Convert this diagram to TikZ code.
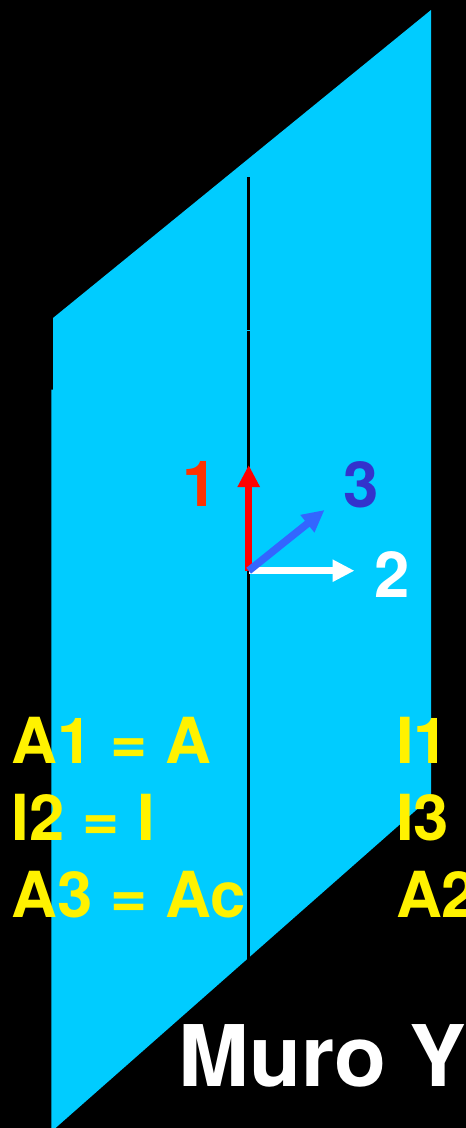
\documentclass[tikz,border=0pt]{standalone}
\usepackage{fontspec}
\setmainfont{TeX Gyre Heros}
\usetikzlibrary{arrows.meta}
\definecolor{wall}{HTML}{00CCFF}
\definecolor{onecol}{HTML}{FF3300}
\definecolor{threecol}{HTML}{3333CC}
\definecolor{arrowblue}{HTML}{3366FF}
\tikzset{
  lbl/.style={anchor=base west,inner sep=0pt,outer sep=0pt,font=\fontsize{63.5}{63.5}\selectfont\bfseries},
  prop/.style={lbl,text=yellow},
  axis/.style={line width=7.5pt,-{Triangle[length=22pt,width=21pt]}},
  title/.style={anchor=base west,inner sep=0pt,outer sep=0pt,text=white,font=\fontsize{85}{85}\selectfont\bfseries},
}
\begin{document}
\begin{tikzpicture}[x=1pt,y=-1pt]
\useasboundingbox (0,0) rectangle (466,1128);
\clip (0,0) rectangle (466,1128);
\fill[black] (0,0) rectangle (466,1128);
% wall
\fill[wall] (53,318) -- (431,10) -- (431,797) -- (55.5,1128) -- (51.3,1128) -- (51.3,389.5) -- (53,389.5) -- cycle;
% centre line
\coordinate (lt) at (248.7,177);
\coordinate (lm1) at (248.7,329.8);
\coordinate (lm2) at (248.7,330.8);
\coordinate (lb) at (248.7,958.5);
\draw[black,line width=2.7pt] (lt) -- (lm1);
\draw[black,line width=2.7pt] (lm2) -- (lb);
% axes
\coordinate (o) at (248.7,570.7);
\coordinate (t1) at (248.7,465);
\coordinate (t2) at (354.5,570.7);
\coordinate (t3) at (324.5,510);
\draw[axis,red] (o) -- (t1);
\draw[axis,white] (o) -- (t2);
\draw[axis,arrowblue] (o) -- (t3);
\node[lbl,text=onecol] (n1) at (182,506) {1};
\node[lbl,text=white] (n2) at (374,597) {2};
\node[lbl,text=threecol] (n3) at (343,507) {3};
% properties
\node[prop] (a1) at (12,763) {A1 = A};
\node[prop] (i2) at (12,840) {I2 = I};
\node[prop] (a3) at (12,917) {A3 = Ac};
\node[prop] (i1) at (396,763) {I1};
\node[prop] (i3) at (396,840) {I3};
\node[prop] (a2) at (396,917) {A2};
\node[title] (muro) at (178.5,1086) {Muro Y};
\end{tikzpicture}
\end{document}
